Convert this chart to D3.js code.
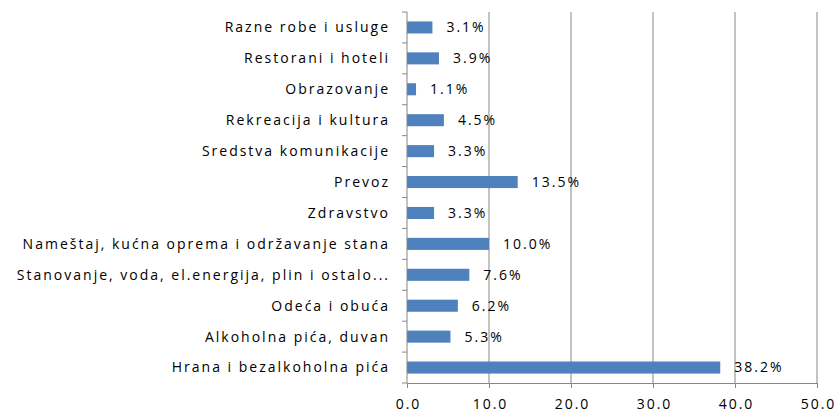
<!DOCTYPE html>
<meta charset="utf-8">
<body style="margin:0;background:#fff">
<script src="https://d3js.org/d3.v7.min.js"></script>
<script>

var categories = ["Razne robe i usluge", "Restorani i hoteli", "Obrazovanje",
  "Rekreacija i kultura", "Sredstva komunikacije", "Prevoz", "Zdravstvo",
  "Nameštaj, kućna oprema i održavanje stana",
  "Stanovanje, voda, el.energija, plin i ostalo...",
  "Odeća i obuća", "Alkoholna pića, duvan", "Hrana i bezalkoholna pića"];
var values = [3.1, 3.9, 1.1, 4.5, 3.3, 13.5, 3.3, 10.0, 7.6, 6.2, 5.3, 38.2];
var ticks = [0, 10, 20, 30, 40, 50];

var width = 839, height = 414;
var plotLeft = 407, plotRight = 817, plotTop = 12, plotBottom = 383;
var font = "'Open Sans', sans-serif";
var spacing = "2px";

var svg = d3.select("body").append("svg")
    .attr("width", width)
    .attr("height", height)
    .style("font-family", font);

var x = d3.scaleLinear().domain([0, 50]).range([plotLeft, plotRight]);
var y = d3.scaleBand().domain(categories).range([plotTop, plotBottom])
    .paddingInner(0.61).paddingOuter(0.305);

// gridlines
svg.selectAll("line.grid")
  .data(ticks.slice(1))
  .enter().append("line")
  .attr("class", "grid")
  .attr("x1", function(d){return x(d);}).attr("x2", function(d){return x(d);})
  .attr("y1", plotTop).attr("y2", plotBottom)
  .attr("stroke", "#868686").attr("stroke-width", 1);

// bars
svg.selectAll("rect.bar")
  .data(values)
  .enter().append("rect")
  .attr("class", "bar")
  .attr("x", x(0))
  .attr("y", function(d, i){return y(categories[i]);})
  .attr("width", function(d){return x(d) - x(0);})
  .attr("height", y.bandwidth())
  .attr("fill", "#4f81bd");

// value labels
svg.selectAll("text.val")
  .data(values)
  .enter().append("text")
  .attr("class", "val")
  .attr("x", function(d){return x(d) + 14;})
  .attr("y", function(d, i){return y(categories[i]) + y.bandwidth() / 2;})
  .attr("dy", "0.35em")
  .attr("font-size", 14)
  .style("letter-spacing", spacing)
  .attr("fill", "#000")
  .text(function(d){return d.toFixed(1) + "%";});

// left axis
var step = (plotBottom - plotTop) / categories.length;
svg.append("line")
  .attr("x1", plotLeft).attr("x2", plotLeft).attr("y1", plotTop).attr("y2", plotBottom)
  .attr("stroke", "#868686");
svg.selectAll("line.ytick")
  .data(d3.range(categories.length + 1))
  .enter().append("line")
  .attr("class", "ytick")
  .attr("x1", plotLeft - 5).attr("x2", plotLeft)
  .attr("y1", function(d){return plotTop + d * step;})
  .attr("y2", function(d){return plotTop + d * step;})
  .attr("stroke", "#868686");

svg.selectAll("text.cat")
  .data(categories)
  .enter().append("text")
  .attr("class", "cat")
  .attr("x", 390)
  .attr("y", function(d){return y(d) + y.bandwidth() / 2;})
  .attr("dy", "0.35em")
  .attr("text-anchor", "end")
  .attr("font-size", 14)
  .style("letter-spacing", spacing)
  .attr("fill", "#000")
  .text(function(d){return d;});

// bottom axis
var xAxis = d3.axisBottom(x).tickValues(ticks).tickSize(5).tickPadding(11)
  .tickFormat(d3.format(".1f"));
var gx = svg.append("g")
  .attr("transform", "translate(0," + plotBottom + ")")
  .call(xAxis);
gx.select(".domain").attr("stroke", "#868686");
gx.selectAll(".tick line").attr("stroke", "#868686");
gx.selectAll(".tick text").attr("font-size", 14).attr("font-family", font)
  .style("letter-spacing", spacing).attr("dx", "1px").attr("fill", "#000");

</script>
</body>
